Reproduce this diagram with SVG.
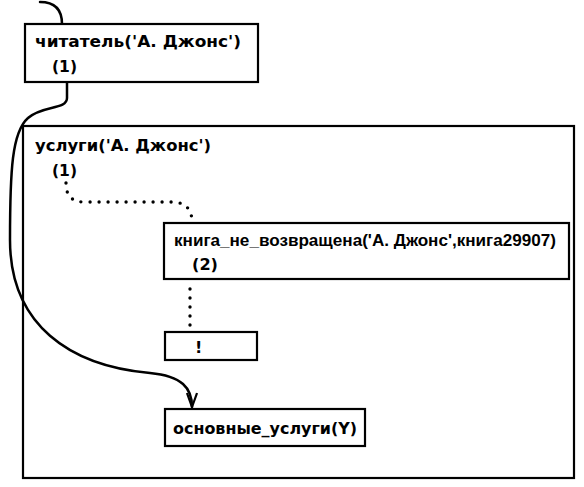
<svg xmlns="http://www.w3.org/2000/svg" width="584" height="487" viewBox="0 0 584 487">
<defs>
<style>
.box{fill:#fff;stroke:#000;stroke-width:2.2}
.outer{fill:none;stroke:#000;stroke-width:2.2}
.t{font-family:"DejaVu Sans","Liberation Sans",sans-serif;font-weight:bold;font-size:16px;fill:#000}
.n{font-family:"Liberation Sans","DejaVu Sans",sans-serif}
.flow{fill:none;stroke:#000;stroke-width:2.5;stroke-linecap:round}
.dots{fill:none;stroke:#000;stroke-width:3.4;stroke-linecap:round;stroke-dasharray:0 9}
</style>
<marker id="arr" viewBox="0 0 16 12" refX="15" refY="6" markerWidth="16" markerHeight="12" markerUnits="userSpaceOnUse" orient="auto">
<path d="M1 1 L15 6 L1 11" fill="none" stroke="#000" stroke-width="2.2"/>
</marker>
</defs>
<g id="uslugi">
<rect class="outer" x="23" y="126" width="551" height="352"/>
<text class="t" x="35" y="151" textLength="176" lengthAdjust="spacingAndGlyphs">услуги('А. Джонс')</text>
<text class="t" x="52" y="176" textLength="25" lengthAdjust="spacingAndGlyphs">(1)</text>
</g>
<g id="connectors">
<path class="flow" d="M40 2 C55 2 62 10 62 24"/>
<path class="flow" marker-end="url(#arr)" d="M67 82 L67 98 C67 110 42 105 28 118 C12 132 10 170 10 240 C10 325 70 366 150 373 C182 376 192 388 192 407"/>
<path class="dots" d="M66 183 C66 196 72 202 84 202 L172 202 C186 202 192 210 192 222"/>
<path class="dots" d="M190 289 L190 330"/>
</g>
<g id="chitatel">
<rect class="box" x="25" y="24" width="233" height="58"/>
<text class="t" x="35" y="47" textLength="206" lengthAdjust="spacingAndGlyphs">читатель('А. Джонс')</text>
<text class="t" x="52" y="72" textLength="25" lengthAdjust="spacingAndGlyphs">(1)</text>
</g>
<g id="kniga">
<rect class="box" x="164" y="223" width="405" height="56"/>
<text class="t n" x="174" y="246" textLength="382" lengthAdjust="spacingAndGlyphs">книга_не_возвращена('А. Джонс',книга29907)</text>
<text class="t" x="192" y="270" textLength="26" lengthAdjust="spacingAndGlyphs">(2)</text>
</g>
<g id="cut">
<rect class="box" x="165" y="332" width="92" height="28"/>
<text class="t" x="195" y="353">!</text>
</g>
<g id="osnovnye">
<rect class="box" x="165" y="409" width="200" height="37"/>
<text class="t" x="173" y="434" textLength="184" lengthAdjust="spacingAndGlyphs">основные_услуги(Y)</text>
</g>
</svg>
